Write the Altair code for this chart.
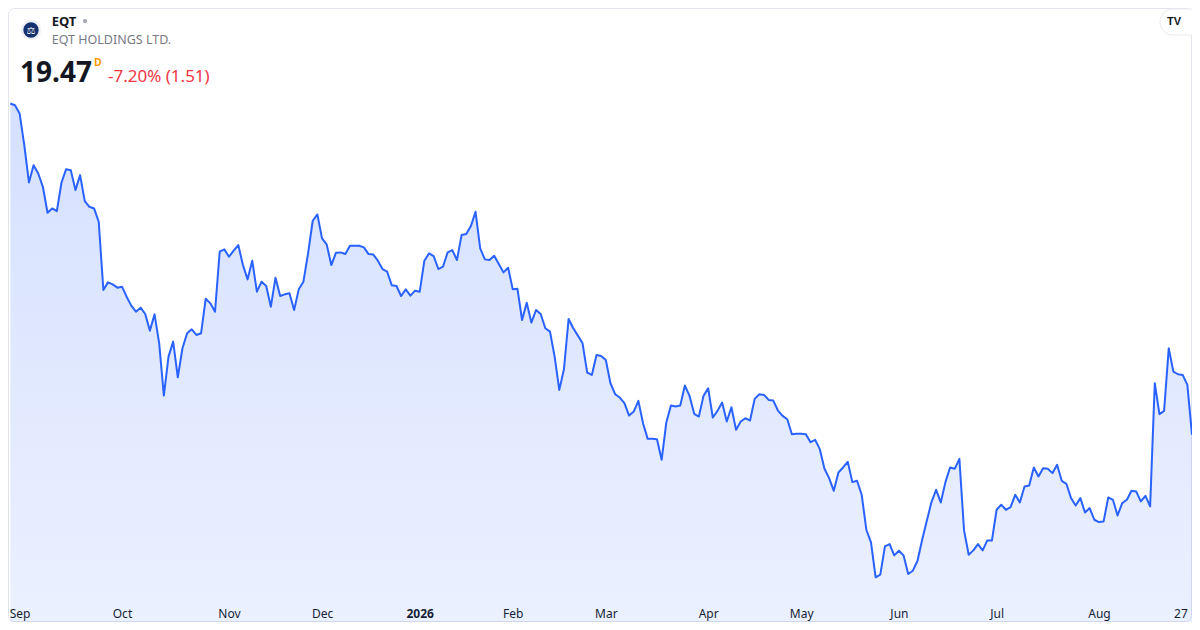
import json
import altair as alt
import pandas as pd

# Daily closes (one value per trading day)
prices = [
    29.42, 29.37, 29.12, 28.17, 27.05, 27.57, 27.32, 26.92, 26.14, 26.27,
    26.19, 27.05, 27.45, 27.42, 26.82, 27.27, 26.49, 26.32, 26.27, 25.87,
    23.82, 24.05, 23.99, 23.89, 23.92, 23.62, 23.35, 23.17, 23.29, 23.10,
    22.60, 23.09, 22.22, 20.65, 21.82, 22.27, 21.20, 22.07, 22.52, 22.64,
    22.47, 22.52, 23.56, 23.42, 23.17, 24.97, 25.04, 24.82, 25.00, 25.17,
    24.57, 24.14, 24.70, 23.77, 24.07, 23.94, 23.32, 24.19, 23.64, 23.69,
    23.72, 23.22, 23.84, 24.07, 24.92, 25.90, 26.09, 25.37, 25.19, 24.57,
    24.94, 24.95, 24.90, 25.15, 25.15, 25.15, 25.10, 24.90, 24.89, 24.70,
    24.45, 24.37, 23.96, 23.94, 23.64, 23.84, 23.65, 23.80, 23.77, 24.70,
    24.92, 24.84, 24.45, 24.52, 24.95, 25.02, 24.72, 25.47, 25.50, 25.74,
    26.17, 25.07, 24.74, 24.72, 24.85, 24.60, 24.35, 24.49, 23.84, 23.86,
    22.92, 23.44, 22.84, 23.22, 23.10, 22.67, 22.57, 21.82, 20.82, 21.44,
    22.95, 22.67, 22.45, 22.22, 21.34, 21.27, 21.87, 21.84, 21.72, 21.02,
    20.69, 20.59, 20.42, 20.05, 20.17, 20.49, 19.82, 19.35, 19.35, 19.34,
    18.72, 19.84, 20.35, 20.32, 20.35, 20.95, 20.64, 20.10, 20.02, 20.64,
    20.87, 19.99, 20.19, 20.44, 19.87, 20.30, 19.62, 19.87, 19.97, 19.90,
    20.55, 20.69, 20.67, 20.52, 20.50, 20.20, 20.04, 19.94, 19.49, 19.50,
    19.50, 19.49, 19.25, 19.32, 19.04, 18.45, 18.17, 17.79, 18.34, 18.49,
    18.66, 18.05, 18.09, 17.67, 16.62, 16.24, 15.19, 15.27, 16.12, 16.19,
    15.85, 15.99, 15.85, 15.29, 15.39, 15.69, 16.32, 16.89, 17.45, 17.82,
    17.44, 18.05, 18.49, 18.45, 18.75, 16.60, 15.87, 16.00, 16.19, 16.00,
    16.30, 16.30, 17.22, 17.37, 17.22, 17.30, 17.67, 17.44, 17.92, 17.95,
    18.49, 18.22, 18.47, 18.45, 18.32, 18.57, 18.09, 18.00, 17.57, 17.35,
    17.57, 17.14, 17.27, 16.92, 16.85, 16.87, 17.59, 17.52, 17.05, 17.42,
    17.52, 17.79, 17.77, 17.47, 17.64, 17.32, 21.02, 20.09, 20.19, 22.07,
    21.37, 21.29, 21.27, 20.97, 19.47,
]

tick_idx = [2, 24, 47, 67, 88, 108, 128, 150, 170, 191, 212, 234, 253]
tick_labels = ["Sep", "Oct", "Nov", "Dec", "2026", "Feb", "Mar", "Apr",
               "May", "Jun", "Jul", "Aug", "27"]
bold_label_idx = tick_idx[tick_labels.index("2026")]
last_label_idx = tick_idx[-1]

symbol = "EQT"
company = "EQT HOLDINGS LTD."
last_price = "19.47"
interval = "D"
change_text = "-7.20% (1.51)"

W, H = 1184, 588
FONT = "Noto Sans"
BLUE = "#2962ff"

df = pd.DataFrame({"i": list(range(len(prices))), "price": prices})
one = pd.DataFrame({"k": [0]})

label_expr = f"{json.dumps(tick_labels)}[indexof({json.dumps(tick_idx)}, datum.value)]"

x_enc = alt.X(
    "i:Q",
    scale=alt.Scale(domain=[-0.5, len(prices) - 1], nice=False, zero=False),
    axis=alt.Axis(
        values=tick_idx, labelExpr=label_expr, domain=False, ticks=False, grid=False,
        labelFontSize=12, labelColor="#131722", labelFont=FONT, labelPadding=12,
        labelOverlap=False, labelFlush=False, labelAngle=0, title=None,
        labelFontWeight={"condition": {"test": f"datum.value == {bold_label_idx}", "value": "bold"},
                         "value": "normal"},
        labelAlign={"condition": {"test": f"datum.value == {last_label_idx}", "value": "right"},
                    "value": "center"},
    ),
)
y_enc = alt.Y("price:Q", scale=alt.Scale(domain=[14.63, 32.29], nice=False, zero=False), axis=None)

area = alt.Chart(df).mark_area(
    line={"color": BLUE, "strokeWidth": 2, "strokeJoin": "round"},
    color=alt.Gradient(
        gradient="linear",
        stops=[alt.GradientStop(color="rgba(41,98,255,0.28)", offset=0),
               alt.GradientStop(color="rgba(41,98,255,0.0)", offset=1)],
        x1=1, x2=1, y1=0, y2=1,
    ),
).encode(x=x_enc, y=y_enc)

frame = alt.Chart(one).mark_rect(
    fill="#ffffff", fillOpacity=0, stroke="#e0e3eb", strokeWidth=1, cornerRadius=6
).encode(x=alt.value(0.5), x2=alt.value(W - 0.5), y=alt.value(0.5), y2=alt.value(613.5))

def txt(text, x, y, size, color, weight="normal", font=FONT, align="left", baseline="alphabetic"):
    return alt.Chart(one).mark_text(
        text=text, fontSize=size, color=color, fontWeight=weight, font=font,
        align=align, baseline=baseline,
    ).encode(x=alt.value(x), y=alt.value(y))

logo_outer = alt.Chart(one).mark_point(filled=True, shape="circle", size=415, color="#eef1f8", opacity=1).encode(
    x=alt.value(23), y=alt.value(22))
logo_inner = alt.Chart(one).mark_point(filled=True, shape="circle", size=235, color="#14306e", opacity=1).encode(
    x=alt.value(23), y=alt.value(22))
logo_icon = txt("\u2696", 23, 22.5, 10, "#ffffff", font="DejaVu Sans", align="center", baseline="middle")

dot = alt.Chart(one).mark_point(filled=True, shape="circle", size=18, color="#a3a6af", opacity=1).encode(
    x=alt.value(77), y=alt.value(13))

tv_pill = alt.Chart(one).mark_rect(fill="#ffffff", stroke="#e9eaee", strokeWidth=1, cornerRadius=13).encode(
    x=alt.value(1152), x2=alt.value(1198), y=alt.value(1), y2=alt.value(27))
tv_text = txt("TV", 1166, 13.5, 11, "#131722", weight="bold", font="Liberation Sans",
              align="center", baseline="middle")

chart = alt.layer(
    frame,
    area,
    logo_outer, logo_inner, logo_icon,
    txt(symbol, 43.7, 18, 13, "#131722", weight="bold"),
    dot,
    txt(company, 43.7, 36.3, 12.5, "#787b86"),
    txt(last_price, 12, 73.7, 28, "#131722", weight="bold"),
    txt(interval, 86, 57.7, 10.5, "#ff9800", weight="bold"),
    txt(change_text, 100, 73.7, 17, "#f23645"),
    tv_pill, tv_text,
).properties(
    width=W, height=H,
    autosize=alt.AutoSizeParams(type="none"),
    padding={"left": 0, "top": 0, "right": 0, "bottom": 26},
    background="#ffffff",
).configure_view(stroke=None)

chart.save("out.html", embed_options={"renderer": "svg", "actions": False})
